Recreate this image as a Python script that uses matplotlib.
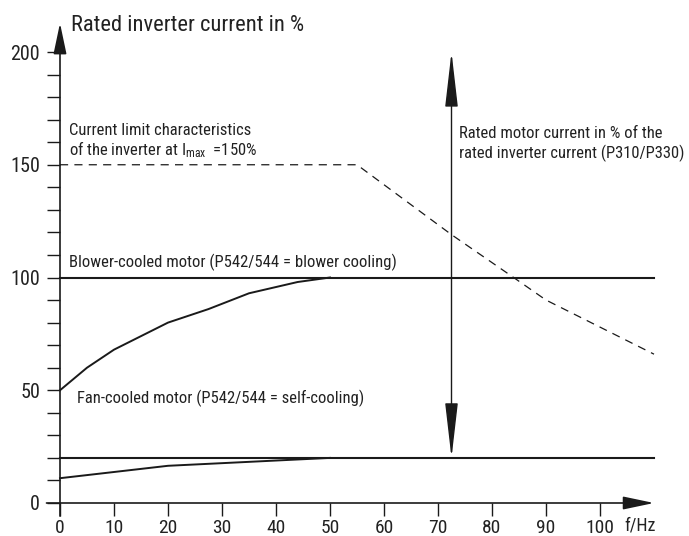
import matplotlib
matplotlib.use("Agg")
import matplotlib.pyplot as plt

# ---- data ----
f_limit = [0, 55, 72.5, 84, 90, 110]
i_limit = [150, 150, 119, 100, 90, 66]

f_blower_curve = [0, 5, 10, 20, 27.5, 35, 44, 50]
i_blower_curve = [50, 60, 68, 80, 86, 93, 98, 100]

f_fan_curve = [0, 20, 50]
i_fan_curve = [11, 16.5, 20]

f_range = [0, 110]
blower_level = [100, 100]
fan_level = [20, 20]

f_motor_arrow = 72.5
motor_arrow_range = [20, 200]

x_ticks = [0, 10, 20, 30, 40, 50, 60, 70, 80, 90, 100]
y_major = [0, 50, 100, 150, 200]
y_minor = [v for v in range(0, 201, 10) if v % 50 != 0]

FNAME = 'Roboto Condensed'
FONT = [FNAME, 'DejaVu Sans']
plt.rcParams['font.family'] = FONT
plt.rcParams['mathtext.fontset'] = 'custom'
plt.rcParams['mathtext.rm'] = FNAME
plt.rcParams['mathtext.it'] = FNAME

W, H = 689, 536
fig = plt.figure(figsize=(W / 100, H / 100), dpi=100)
ax = fig.add_axes([60 / W, 33 / H, 594 / W, 451 / H])
ax.set_xlim(0, 110)
ax.set_ylim(0, 200)
for s in ax.spines.values():
    s.set_visible(False)

col = '#1a1a1a'
txtc = '#222222'

# axes arrows
ax.annotate('', xy=(110, 0), xytext=(-2.5, 0), annotation_clip=False,
            arrowprops=dict(arrowstyle='-|>,head_length=19,head_width=4', mutation_scale=1,
                            lw=1.2, color=col, shrinkA=0, shrinkB=0))
ax.annotate('', xy=(0, 212.8), xytext=(0, -5.8), annotation_clip=False,
            arrowprops=dict(arrowstyle='-|>,head_length=19,head_width=4', mutation_scale=1,
                            lw=1.2, color=col, shrinkA=0, shrinkB=0))

# ticks
ax.set_xticks(x_ticks)
ax.set_xticklabels([str(v) for v in x_ticks])
ax.set_yticks(y_major)
ax.set_yticklabels([str(v) for v in y_major])
ax.set_yticks(y_minor, minor=True)
ax.tick_params(axis='x', direction='out', length=9.3, width=1, color=col, pad=2, labelsize=14, labelcolor=txtc)
ax.tick_params(axis='y', which='both', direction='out', length=9.3, width=1, color=col, pad=5, labelsize=14.5, labelcolor=txtc)

# lines
ax.plot(f_range, blower_level, color=col, lw=1.5, clip_on=False)
ax.plot(f_range, fan_level, color=col, lw=1.5, clip_on=False)
ax.plot(f_blower_curve, i_blower_curve, color=col, lw=1.4, clip_on=False)
ax.plot(f_fan_curve, i_fan_curve, color=col, lw=1.4, clip_on=False)
ax.plot(f_limit, i_limit, color=col, lw=0.9, linestyle=(0, (6.5, 5)), clip_on=False)

# double arrow
ax.annotate('', xy=(f_motor_arrow, motor_arrow_range[1]), xytext=(f_motor_arrow, motor_arrow_range[0]),
            annotation_clip=False,
            arrowprops=dict(arrowstyle='<|-|>,head_length=34.5,head_width=4', mutation_scale=1,
                            lw=1, color=col, shrinkA=0, shrinkB=0))

# texts
ax.text(2.0, 209.3, 'Rated inverter current in %', fontsize=16.2, color=txtc, va='baseline', ha='left')
ax.text(1.67, 163.2, 'Current limit characteristics', fontsize=12, color=txtc, va='baseline')
ax.text(1.67, 154.3, r'of the inverter at $\mathregular{I_{max}}$  =150%', fontsize=12, color=txtc, va='baseline')
ax.text(73.9, 161.8, 'Rated motor current in % of the', fontsize=12, color=txtc, va='baseline')
ax.text(73.9, 153.0, 'rated inverter current (P310/P330)', fontsize=12, color=txtc, va='baseline')
ax.text(1.67, 104.6, 'Blower-cooled motor (P542/544 = blower cooling)', fontsize=12, color=txtc, va='baseline')
ax.text(3.15, 44.3, 'Fan-cooled motor (P542/544 = self-cooling)', fontsize=12, color=txtc, va='baseline')
ax.text(104.6, -12, 'f/Hz', fontsize=13, color=txtc, va='baseline')

fig.savefig('out.png', dpi=100)
